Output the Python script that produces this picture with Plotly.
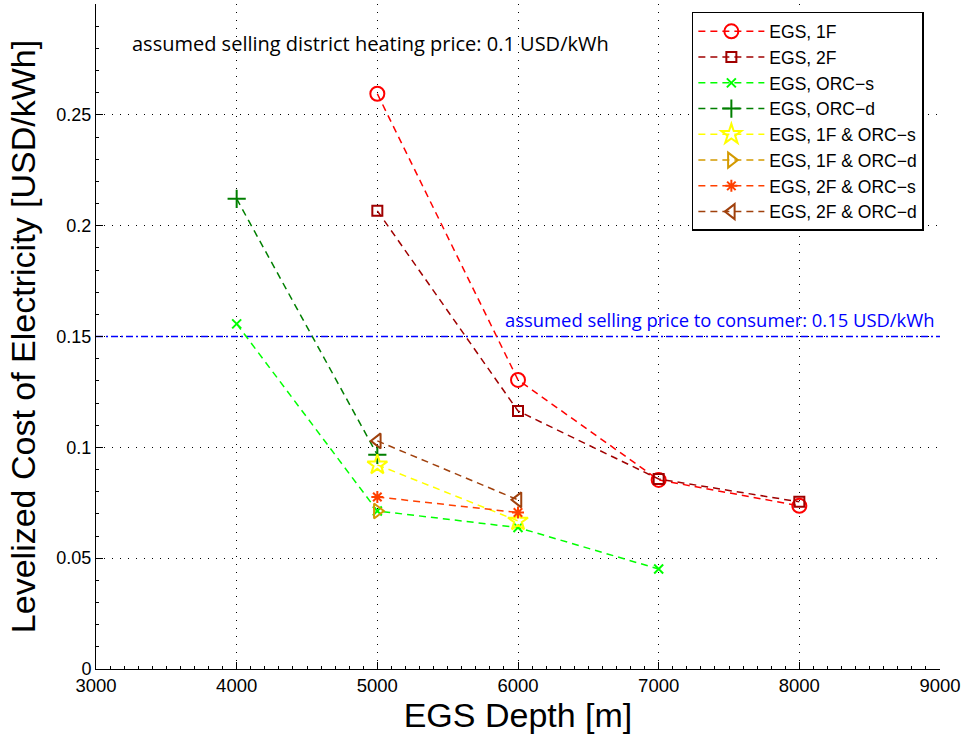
import plotly.graph_objects as go

# ---- data ----
depth_1f = [5000, 6000, 7000, 8000]
lcoe_1f = [0.2595, 0.1304, 0.0853, 0.0736]
depth_2f = [5000, 6000, 7000, 8000]
lcoe_2f = [0.2067, 0.1164, 0.0857, 0.0754]
depth_orcs = [4000, 5000, 6000, 7000]
lcoe_orcs = [0.1557, 0.0713, 0.0638, 0.0451]
depth_orcd = [4000, 5000]
lcoe_orcd = [0.2121, 0.0966]
depth_1f_orcs = [5000, 6000]
lcoe_1f_orcs = [0.0921, 0.0668]
depth_1f_orcd = [5000]
lcoe_1f_orcd = [0.0713]
depth_2f_orcs = [5000, 6000]
lcoe_2f_orcs = [0.0776, 0.0706]
depth_2f_orcd = [5000, 6000]
lcoe_2f_orcd = [0.1029, 0.0763]

consumer_price = 0.15
x_ticks = [3000, 4000, 5000, 6000, 7000, 8000, 9000]
y_ticks = [0, 0.05, 0.1, 0.15, 0.2, 0.25]
y_tick_labels = ["0", "0.05", "0.1", "0.15", "0.2", "0.25"]

series = [
    ("EGS, 1F", depth_1f, lcoe_1f, "#FF0000", "circle-open", 14),
    ("EGS, 2F", depth_2f, lcoe_2f, "#A00000", "square-open", 10),
    ("EGS, ORC\u2212s", depth_orcs, lcoe_orcs, "#00FF00", "x-thin-open", 9),
    ("EGS, ORC\u2212d", depth_orcd, lcoe_orcd, "#007F00", "cross-thin-open", 13),
    ("EGS, 1F & ORC\u2212s", depth_1f_orcs, lcoe_1f_orcs, "#FFFF00", "star-open", 15),
    ("EGS, 1F & ORC\u2212d", depth_1f_orcd, lcoe_1f_orcd, "#D49A00", "triangle-right-open", 13),
    ("EGS, 2F & ORC\u2212s", depth_2f_orcs, lcoe_2f_orcs, "#FF4000", "asterisk-open", 10),
    ("EGS, 2F & ORC\u2212d", depth_2f_orcd, lcoe_2f_orcd, "#A0410D", "triangle-left-open", 13),
]

fig = go.Figure()

# consumer price line
fig.add_trace(go.Scatter(
    x=[x_ticks[0], x_ticks[-1]], y=[consumer_price, consumer_price],
    mode="lines", line=dict(color="#0000FF", width=1.5, dash="7px,3px,2px,3px"),
    showlegend=False, hoverinfo="skip"))

for name, xs, ys, col, sym, size in series:
    fig.add_trace(go.Scatter(
        x=xs, y=ys, mode="lines+markers", name=name,
        line=dict(color=col, width=1.5, dash="7px,5px"),
        marker=dict(symbol=sym, size=size, color=col, line=dict(color=col, width=2)),
    ))

font = "Liberation Sans, Arial, Helvetica, sans-serif"
ann_font = "Open Sans, Noto Sans, sans-serif"

fig.update_layout(
    width=961, height=736,
    margin=dict(l=96, r=21, t=4, b=67),
    paper_bgcolor="white", plot_bgcolor="white",
    font=dict(family=font, size=18, color="black"),
    showlegend=True,
    legend=dict(
        x=0.706, y=0.988, xanchor="left", yanchor="top",
        bgcolor="white", bordercolor="black", borderwidth=1.5,
        font=dict(size=17.5, family=font),
        tracegroupgap=0, itemwidth=66,
    ),
    xaxis=dict(
        range=[3000, 9000], tickvals=x_ticks, ticks="inside", ticklen=7,
        tickcolor="black", showline=True, linecolor="black", linewidth=1,
        showgrid=True, gridcolor="black", griddash="1px,7px", gridwidth=1,
        zeroline=False, tickfont=dict(size=18.5), automargin=False,
        ticklabeloverflow="allow",
        minor=dict(dtick=100, ticks="inside", ticklen=3, tickcolor="black", showgrid=False),
        title=dict(text="EGS Depth [m]", font=dict(size=34), standoff=4),
    ),
    yaxis=dict(
        range=[0, 0.3], tickvals=y_ticks, ticktext=y_tick_labels, ticks="inside",
        ticklen=7, tickcolor="black", showline=True, linecolor="black", linewidth=1,
        showgrid=True, gridcolor="black", griddash="1px,7px", gridwidth=1,
        zeroline=False, tickfont=dict(size=18), automargin=False,
        ticklabeloverflow="allow",
        minor=dict(dtick=0.01, ticks="inside", ticklen=3, tickcolor="black", showgrid=False),
        title=dict(text="Levelized Cost of Electricity [USD/kWh]", font=dict(size=34), standoff=10),
    ),
    annotations=[
        dict(x=3240, y=0.282, xref="x", yref="y", xanchor="left", yanchor="middle",
             text="assumed selling district heating price: 0.1 USD/kWh", showarrow=False,
             font=dict(size=20, color="black", family=ann_font)),
        dict(x=8977, y=0.1575, xref="x", yref="y", xanchor="right", yanchor="middle",
             text="assumed selling price to consumer: 0.15 USD/kWh", showarrow=False,
             font=dict(size=18.4, color="#0000FF", family=ann_font)),
    ],
)

fig.write_html("out.html")
